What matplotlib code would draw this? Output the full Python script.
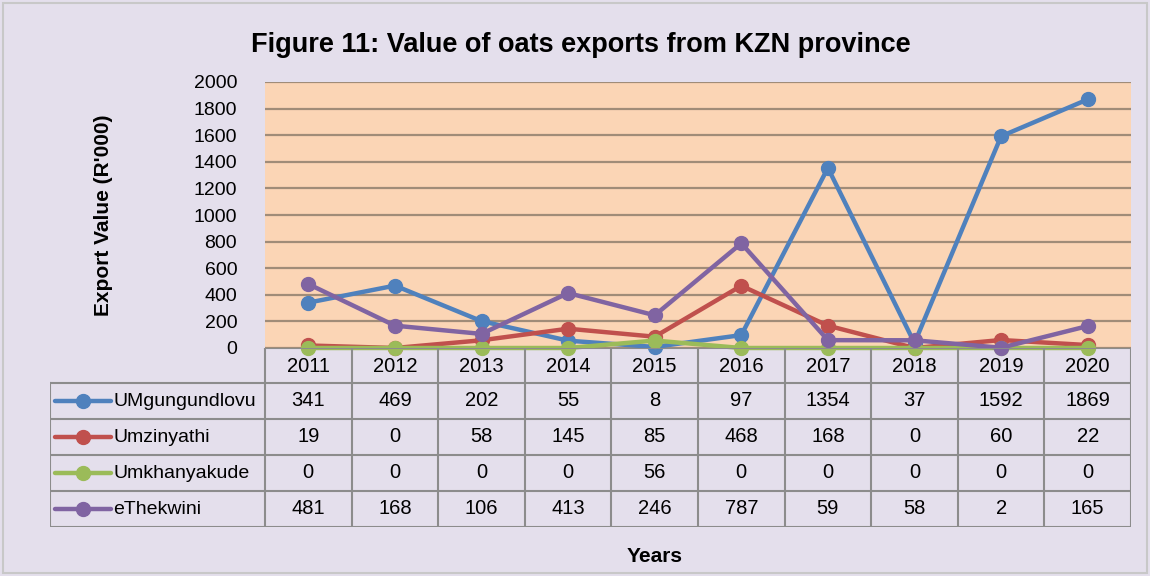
import matplotlib
matplotlib.use("Agg")
import matplotlib.pyplot as plt
from matplotlib.patches import Rectangle

# Daten
years = ["2011", "2012", "2013", "2014", "2015", "2016", "2017", "2018", "2019", "2020"]
districts = ["UMgungundlovu", "Umzinyathi", "Umkhanyakude", "eThekwini"]
umgungundlovu = [341, 469, 202, 55, 8, 97, 1354, 37, 1592, 1869]
umzinyathi = [19, 0, 58, 145, 85, 468, 168, 0, 60, 22]
umkhanyakude = [0, 0, 0, 0, 56, 0, 0, 0, 0, 0]
ethekwini = [481, 168, 106, 413, 246, 787, 59, 58, 2, 165]
series = [umgungundlovu, umzinyathi, umkhanyakude, ethekwini]
colors = ["#4F81BD", "#C0504D", "#9BBB59", "#8064A2"]
yticks = [0, 200, 400, 600, 800, 1000, 1200, 1400, 1600, 1800, 2000]

plt.rcParams['font.family'] = ['Liberation Sans Narrow', 'Liberation Sans', 'DejaVu Sans']

W, H = 1150, 576
fig = plt.figure(figsize=(W / 100, H / 100), dpi=100, facecolor="#E4DFEC")
fig.patches.append(Rectangle((3 / W, 3 / H), 1 - 6 / W, 1 - 6 / H, transform=fig.transFigure,
                             fill=False, edgecolor="#C8C8C8", linewidth=1.5))

# Diagramm
left, right = 265 / W, 1131 / W
top_px, bot_px = 82, 348
ax = fig.add_axes([left, 1 - bot_px / H, right - left, (bot_px - top_px) / H])
ax.set_facecolor("#FBD5B5")
x = list(range(len(years)))
for vals, c in zip(series, colors):
    ax.plot(x, vals, color=c, linewidth=3.2, marker="o", markersize=10, zorder=3, clip_on=False)
ax.set_xlim(-0.5, len(years) - 0.5)
ax.set_ylim(0, 2000)
ax.set_yticks(yticks)
ax.set_yticklabels([str(t) for t in yticks], fontsize=14)
ax.set_xticks([])
ax.tick_params(axis="y", length=0, pad=20)
ax.yaxis.grid(True, color="#A08C78", linewidth=1.6)
ax.set_axisbelow(True)
for s in ax.spines.values():
    s.set_visible(False)
ax.set_ylabel("Export Value (R'000)", fontsize=15, fontweight="bold", labelpad=58)

fig.text(581 / W, 1 - 45 / H, "Figure 11: Value of oats exports from KZN province",
         ha="center", va="center", fontsize=19.5, fontweight="bold")

# Datentabelle
tab_left, tab_right = 50, 1131
col_w = (right - left) * W / len(years)
lab_w = (left * W - tab_left) / col_w
tax = fig.add_axes([tab_left / W, 1 - 527 / H, (tab_right - tab_left) / W, (527 - 348) / H])
tax.set_xlim(-0.5 - lab_w, len(years) - 0.5)
row_edges = [0, 36, 72, 108, 144, 179]  # px von unten
tax.set_ylim(0, 179)
tax.axis("off")
gc = "#8C8C8C"
lw = 1.5
tax.plot([-0.5, len(years) - 0.5], [179, 179], color=gc, lw=lw)
for yv in row_edges[:5]:
    tax.plot([-0.5 - lab_w, len(years) - 0.5], [yv, yv], color=gc, lw=lw)
for i in range(len(years) + 1):
    tax.plot([i - 0.5, i - 0.5], [0, 179], color=gc, lw=lw)
tax.plot([-0.5 - lab_w] * 2, [0, 144], color=gc, lw=lw)
for i, yr in enumerate(years):
    tax.text(i, 161, yr, ha="center", va="center", fontsize=14.5)
for r, (name, vals, c) in enumerate(zip(districts, series, colors)):
    yc = (row_edges[3 - r] + row_edges[4 - r]) / 2
    kx0 = -0.5 - lab_w + 0.06
    kx1 = kx0 + 0.64
    tax.plot([kx0, kx1], [yc, yc], color=c, lw=3.2, solid_capstyle="round")
    tax.plot([(kx0 + kx1) / 2], [yc], marker="o", color=c, markersize=10)
    tax.text(kx1 + 0.03, yc, name, ha="left", va="center", fontsize=14)
    for i, v in enumerate(vals):
        tax.text(i, yc, str(v), ha="center", va="center", fontsize=14.5)

fig.text(655 / W, 1 - 557 / H, "Years", ha="center", va="center", fontsize=15, fontweight="bold")

fig.savefig("out.png", dpi=100, facecolor=fig.get_facecolor())
